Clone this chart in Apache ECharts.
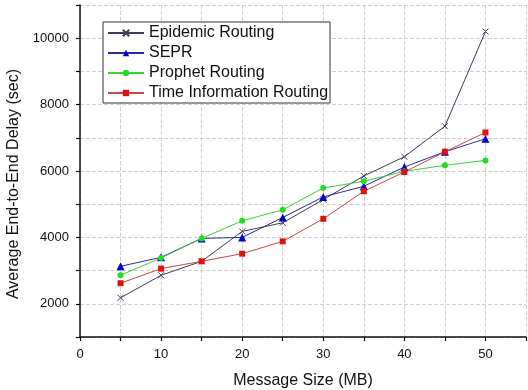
<!DOCTYPE html>
<html>
<head>
<meta charset="utf-8">
<script src="https://cdn.jsdelivr.net/npm/echarts@6/dist/echarts.min.js"></script>
<style>html,body{margin:0;padding:0;background:#fff}#c{width:528px;height:390px}</style>
</head>
<body>
<div id="c"></div>
<script>
const messageSizes = [5, 10, 15, 20, 25, 30, 35, 40, 45, 50];
const epidemic = [2180, 2860, 3280, 4180, 4440, 5140, 5850, 6430, 7350, 10200];
const sepr = [3130, 3400, 3970, 4000, 4600, 5220, 5540, 6120, 6580, 6970];
const prophet = [2860, 3380, 3970, 4500, 4830, 5490, 5690, 5990, 6170, 6320];
const timeInfo = [2620, 3060, 3280, 3510, 3880, 4560, 5390, 5970, 6580, 7160];
const seriesNames = ['Epidemic Routing', 'SEPR', 'Prophet Routing', 'Time Information Routing'];

const FONT = '"Liberation Sans", Arial, sans-serif';
function pairs(vals){ return messageSizes.map((x,i)=>[x, vals[i]]); }

const chart = echarts.init(document.getElementById('c'), null, {renderer:'canvas'});
chart.setOption({
  animation: false,
  backgroundColor: '#fff',
  grid: { left: 80, right: 2, top: 5, bottom: 53, containLabel: false, outerBoundsMode: 'none' },
  legend: {
    orient: 'vertical', left: 103, top: 22,
    backgroundColor: '#fff',
    borderColor: '#333', borderWidth: 1,
    padding: [1, 2, 0, 4],
    itemWidth: 36, itemHeight: 8, itemGap: 0,
    textStyle: { fontFamily: FONT, fontSize: 16, color: '#111', lineHeight: 20 },
    data: seriesNames
  },
  xAxis: {
    type: 'value', min: 0, max: 55, interval: 5,
    name: 'Message Size (MB)', nameLocation: 'middle', nameGap: 36,
    nameTextStyle: { fontFamily: FONT, fontSize: 16, color: '#111' },
    axisLine: { lineStyle: { color: '#111', width: 1.5 } },
    axisTick: { inside: false, length: 4, lineStyle: { color: '#111', width: 1.2 } },
    axisLabel: { fontFamily: FONT, fontSize: 13, color: '#111', margin: 11,
      formatter: v => (v % 10 === 0 && v <= 50) ? String(v) : '' },
    splitLine: { show: true, lineStyle: { color: '#cfcfcf', type: 'dashed', width: 1 } }
  },
  yAxis: {
    type: 'value', min: 1000, max: 11000, interval: 1000,
    name: 'Average End-to-End Delay (sec)', nameLocation: 'middle', nameGap: 58,
    nameTextStyle: { fontFamily: FONT, fontSize: 16, color: '#111', padding: [0, 26, 0, 0] },
    axisLine: { show: true, lineStyle: { color: '#111', width: 1.5 } },
    axisTick: { show: true, inside: false, length: 4, lineStyle: { color: '#111', width: 1.2 } },
    axisLabel: { fontFamily: FONT, fontSize: 13, color: '#111', margin: 11,
      formatter: v => (v % 2000 === 0 && v <= 10000) ? String(v) : '' },
    splitLine: { show: true, lineStyle: { color: '#cfcfcf', type: 'dashed', width: 1 } }
  },
  series: [
    { name: seriesNames[0], type: 'line', data: pairs(epidemic),
      symbol: 'path://M0,0L10,10M10,0L0,10', symbolSize: 6,
      lineStyle: { color: '#3d3d5c', width: 1 },
      itemStyle: { color: 'none', borderColor: '#3d3d5c', borderWidth: 1 } },
    { name: seriesNames[1], type: 'line', data: pairs(sepr),
      symbol: 'triangle', symbolSize: 8,
      lineStyle: { color: '#2a2aa0', width: 1 },
      itemStyle: { color: '#0000cc', borderWidth: 0 } },
    { name: seriesNames[2], type: 'line', data: pairs(prophet),
      symbol: 'circle', symbolSize: 6,
      lineStyle: { color: '#3ccc3c', width: 1 },
      itemStyle: { color: '#22dd22', borderWidth: 0 } },
    { name: seriesNames[3], type: 'line', data: pairs(timeInfo),
      symbol: 'rect', symbolSize: 6,
      lineStyle: { color: '#c84848', width: 1 },
      itemStyle: { color: '#e01010', borderWidth: 0 } }
  ]
});
</script>
</body>
</html>
